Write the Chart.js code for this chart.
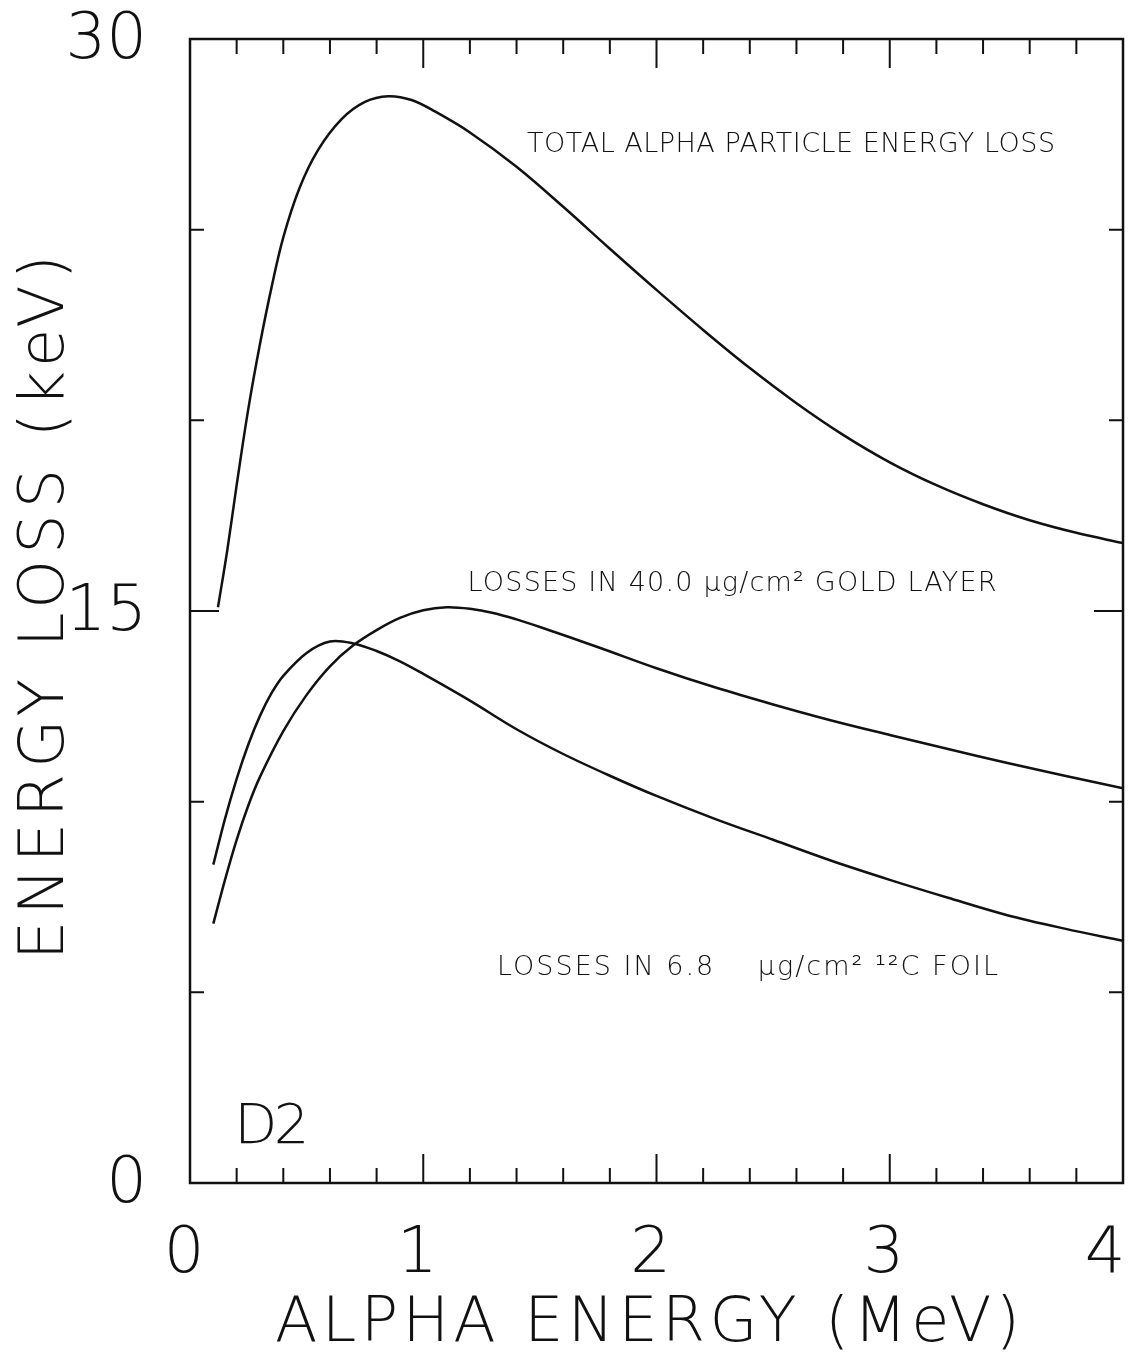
<!DOCTYPE html>
<html>
<head>
<meta charset="utf-8">
<title>Energy loss D2</title>
<script src="https://cdn.jsdelivr.net/npm/chart.js@4.4.1/dist/chart.umd.min.js"></script>
<style>
  html, body { margin: 0; padding: 0; background: #fff; }
  #wrap { width: 1135px; height: 1363px; }
</style>
</head>
<body>
<div id="wrap"><canvas id="lossChart" width="1135" height="1363"></canvas></div>
<script>
// alpha energy (MeV) and energy loss (keV)
var totalE    = [0.12, 0.16, 0.20, 0.25, 0.30, 0.35, 0.40, 0.47, 0.55, 0.65, 0.75, 0.85, 0.95, 1.05, 1.2, 1.4, 1.6, 1.8, 2.0, 2.2, 2.4, 2.6, 2.8, 3.0, 3.2, 3.4, 3.6, 3.8, 4.0];
var totalLoss = [15.1, 16.6, 18.3, 20.3, 22.0, 23.5, 24.8, 26.1, 27.1, 27.9, 28.35, 28.5, 28.4, 28.1, 27.55, 26.65, 25.6, 24.5, 23.42, 22.37, 21.37, 20.45, 19.62, 18.9, 18.3, 17.8, 17.38, 17.05, 16.78];

var goldE    = [0.10, 0.15, 0.20, 0.25, 0.30, 0.40, 0.50, 0.60, 0.70, 0.80, 0.90, 1.00, 1.10, 1.20, 1.30, 1.40, 1.50, 1.75, 2.0, 2.25, 2.5, 2.75, 3.0, 3.25, 3.5, 3.75, 4.0];
var goldLoss = [6.8, 7.95, 9.0, 9.9, 10.65, 11.85, 12.8, 13.55, 14.1, 14.5, 14.82, 15.02, 15.1, 15.06, 14.95, 14.78, 14.58, 14.05, 13.5, 13.0, 12.55, 12.13, 11.75, 11.38, 11.02, 10.68, 10.35];

var carbonE    = [0.10, 0.15, 0.20, 0.25, 0.30, 0.35, 0.40, 0.50, 0.60, 0.70, 0.80, 0.90, 1.00, 1.20, 1.40, 1.60, 1.80, 2.0, 2.25, 2.5, 2.75, 3.0, 3.25, 3.5, 3.75, 4.0];
var carbonLoss = [8.35, 9.55, 10.6, 11.5, 12.25, 12.85, 13.3, 13.9, 14.2, 14.15, 13.95, 13.68, 13.35, 12.65, 11.9, 11.25, 10.68, 10.15, 9.55, 9.0, 8.45, 7.95, 7.48, 7.03, 6.67, 6.35];

var xMinorTicks = [0, 0.2, 0.4, 0.6, 0.8, 1, 1.2, 1.4, 1.6, 1.8, 2, 2.2, 2.4, 2.6, 2.8, 3, 3.2, 3.4, 3.6, 3.8, 4];
var xLabels = [0, 1, 2, 3, 4];
var yTicks = [0, 5, 10, 15, 20, 25, 30];
var yLabels = [0, 15, 30];

var ink = '#111';

function pts(xs, ys) {
    return xs.map(function (x, i) { return { x: x, y: ys[i] }; });
}

// draw text stretched with letter spacing so it spans a given width
function spacedText(ctx, text, left, y, size, width) {
    ctx.font = '300 ' + size + 'px "DejaVu Sans", "Liberation Sans", sans-serif';
    ctx.letterSpacing = '0px';
    var w = ctx.measureText(text).width;
    var sp = (width - w) / (text.length - 1);
    ctx.letterSpacing = sp + 'px';
    ctx.textAlign = 'left';
    ctx.textBaseline = 'middle';
    ctx.fillText(text, left, y);
    ctx.letterSpacing = '0px';
}

var framePlugin = {
    id: 'frame',
    afterDraw: function (chart) {
        var ctx = chart.ctx;
        var a = chart.chartArea;
        var xs = chart.scales.x, ys = chart.scales.y;
        ctx.save();
        ctx.strokeStyle = ink;
        ctx.fillStyle = ink;
        ctx.lineWidth = 2.5;
        ctx.strokeRect(a.left, a.top, a.right - a.left, a.bottom - a.top);

        // x ticks, top and bottom, pointing inwards
        ctx.lineWidth = 2;
        xMinorTicks.forEach(function (v) {
            var px = xs.getPixelForValue(v);
            var len = (xLabels.indexOf(v) >= 0) ? 29 : 15;
            ctx.beginPath();
            ctx.moveTo(px, a.bottom); ctx.lineTo(px, a.bottom - len);
            ctx.moveTo(px, a.top); ctx.lineTo(px, a.top + len);
            ctx.stroke();
        });
        // y ticks, left and right
        yTicks.forEach(function (v) {
            var py = ys.getPixelForValue(v);
            var len = (v === 15) ? 29 : 14;
            ctx.beginPath();
            ctx.moveTo(a.left, py); ctx.lineTo(a.left + len, py);
            ctx.moveTo(a.right, py); ctx.lineTo(a.right - len, py);
            ctx.stroke();
        });

        // tick labels
        ctx.font = '300 64px "DejaVu Sans", "Liberation Sans", sans-serif';
        ctx.textBaseline = 'middle';
        ctx.textAlign = 'right';
        yLabels.forEach(function (v) {
            ctx.fillText(String(v), a.left - 43, ys.getPixelForValue(v) + 2);
        });
        ctx.textAlign = 'center';
        xLabels.forEach(function (v) {
            var px = Math.min(xs.getPixelForValue(v) - 6, 1105);
            ctx.fillText(String(v), px, a.bottom + 72);
        });

        // axis titles
        spacedText(ctx, 'ALPHA ENERGY (MeV)', 275, a.bottom + 142, 62, 745);
        ctx.save();
        ctx.translate(47, 960);
        ctx.rotate(-Math.PI / 2);
        spacedText(ctx, 'ENERGY LOSS (keV)', 0, 0, 62, 705);
        ctx.restore();

        // curve labels placed in data coordinates
        spacedText(ctx, 'TOTAL ALPHA PARTICLE ENERGY LOSS',
            xs.getPixelForValue(1.445), ys.getPixelForValue(27.22), 27, 528);
        spacedText(ctx, 'LOSSES IN 40.0 \u03bcg/cm\u00b2 GOLD LAYER',
            xs.getPixelForValue(1.19), ys.getPixelForValue(15.71), 27, 529);
        spacedText(ctx, 'LOSSES IN 6.8    \u03bcg/cm\u00b2 \u00b9\u00b2C FOIL',
            xs.getPixelForValue(1.316), ys.getPixelForValue(5.64), 27, 501);
        spacedText(ctx, 'D2', xs.getPixelForValue(0.19), ys.getPixelForValue(1.44), 56, 75);
        ctx.restore();
    }
};

var lineStyle = {
    showLine: true,
    pointRadius: 0,
    borderColor: ink,
    borderWidth: 2.5,
    tension: 0.35,
    fill: false
};

var ctx = document.getElementById('lossChart');
var myChart = new Chart(ctx, {
    type: 'scatter',
    data: {
        datasets: [
            Object.assign({ label: 'Total', data: pts(totalE, totalLoss) }, lineStyle),
            Object.assign({ label: 'Gold layer', data: pts(goldE, goldLoss) }, lineStyle),
            Object.assign({ label: 'Carbon foil', data: pts(carbonE, carbonLoss) }, lineStyle)
        ]
    },
    options: {
        responsive: false,
        animation: false,
        devicePixelRatio: 1,
        layout: { padding: { left: 190, right: 12, top: 39, bottom: 180 } },
        plugins: {
            legend: { display: false },
            tooltip: { enabled: false }
        },
        scales: {
            x: { type: 'linear', min: 0, max: 4, display: false },
            y: { type: 'linear', min: 0, max: 30, display: false }
        }
    },
    plugins: [framePlugin]
});
</script>
</body>
</html>
